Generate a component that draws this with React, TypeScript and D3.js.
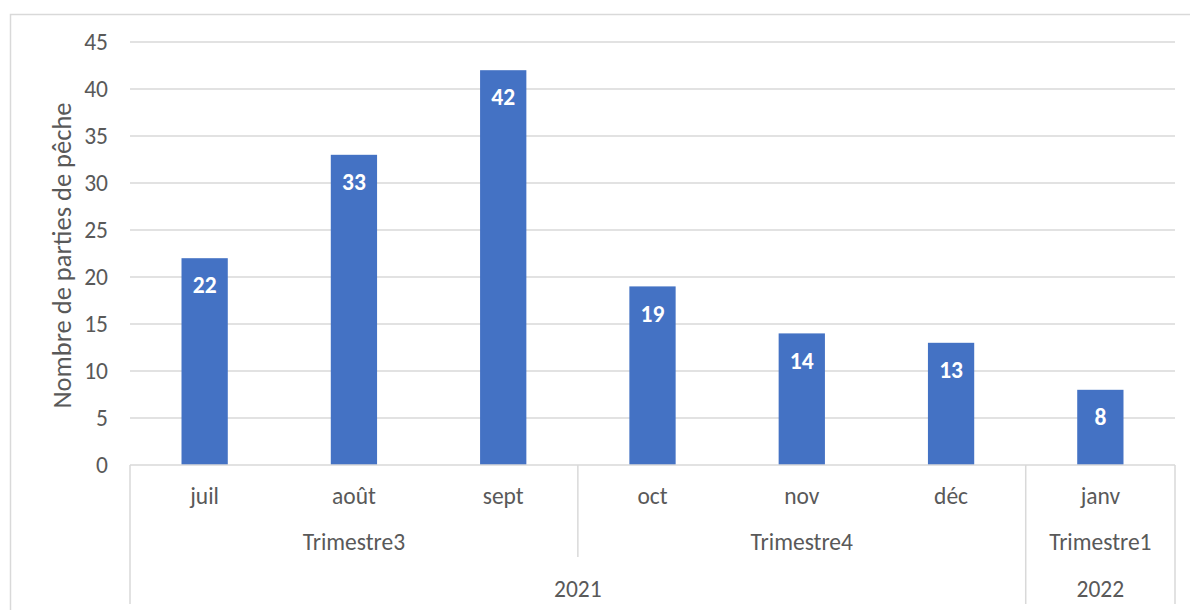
import React from "react";
import * as d3 from "d3";

const months = ["juil", "août", "sept", "oct", "nov", "déc", "janv"];
const values = [22, 33, 42, 19, 14, 13, 8];
const quarters = [
  { label: "Trimestre3", start: 0, end: 3 },
  { label: "Trimestre4", start: 3, end: 6 },
  { label: "Trimestre1", start: 6, end: 7 },
];
const years = [
  { label: "2021", start: 0, end: 6 },
  { label: "2022", start: 6, end: 7 },
];
const yTicks = [0, 5, 10, 15, 20, 25, 30, 35, 40, 45];
const yTitle = "Nombre de parties de pêche";

const W = 1190;
const H = 610;
const left = 130;
const right = 1175;
const top = 42;
const bottom = 465;
const font = "Carlito, Calibri, 'Open Sans', sans-serif";
const fs = 23.5;

export default function App() {
  const x = d3.scaleBand<string>().domain(months).range([left, right]).paddingInner(0.69).paddingOuter(0.345);
  const y = d3.scaleLinear().domain([0, 45]).range([bottom, top]);
  const step = (right - left) / months.length;
  const edge = (i: number) => left + i * step;
  const quarterBoundaries = quarters.slice(0, -1).map((q) => q.end).filter((b) => !years.some((yr) => yr.end === b));
  const yearBoundaries = years.map((yr) => yr.end).filter((b) => b < months.length);
  const textColor = "#595959";
  const lineColor = "#d9d9d9";
  return (
    <div style={{ position: "absolute", left: 0, top: 0 }}>
      <svg width={W} height={H} style={{ display: "block" }}>
        <rect x={0} y={0} width={W} height={H} fill="#fff" />
        <rect x={10.5} y={14.5} width={W} height={H} fill="none" stroke={lineColor} strokeWidth={1.5} />
        {yTicks.map((t) => (
          <g key={t}>
            {t > 0 && <line x1={left} x2={right} y1={y(t)} y2={y(t)} stroke={lineColor} strokeWidth={1.5} />}
            <text x={108} y={y(t)} dy="0.35em" textAnchor="end" fontSize={fs} fill={textColor} fontFamily={font}>
              {t}
            </text>
          </g>
        ))}
        <text
          transform={`translate(62,${(top + bottom) / 2 + 2}) rotate(-90)`}
          textAnchor="middle"
          dy="0.35em"
          fontSize={26.5}
          fill={textColor}
          fontFamily={font}
        >
          {yTitle}
        </text>
        {values.map((v, i) => (
          <g key={months[i]}>
            <rect x={x(months[i])} y={y(v)} width={x.bandwidth()} height={bottom - y(v)} fill="#4472c4" />
            <text
              x={(x(months[i]) as number) + x.bandwidth() / 2}
              y={y(v) + 27}
              dy="0.35em"
              textAnchor="middle"
              fontSize={fs}
              fontWeight="bold"
              fill="#fff"
              fontFamily={font}
            >
              {v}
            </text>
          </g>
        ))}
        <line x1={left} x2={right} y1={bottom} y2={bottom} stroke={lineColor} strokeWidth={1.5} />
        <line x1={left} x2={left} y1={bottom} y2={604} stroke={lineColor} strokeWidth={1.5} />
        <line x1={right} x2={right} y1={bottom} y2={604} stroke={lineColor} strokeWidth={1.5} />
        {quarterBoundaries.map((b) => (
          <line key={"q" + b} x1={edge(b)} x2={edge(b)} y1={bottom} y2={557} stroke={lineColor} strokeWidth={1.5} />
        ))}
        {yearBoundaries.map((b) => (
          <line key={"y" + b} x1={edge(b)} x2={edge(b)} y1={bottom} y2={604} stroke={lineColor} strokeWidth={1.5} />
        ))}
        {months.map((m) => (
          <text
            key={m}
            x={(x(m) as number) + x.bandwidth() / 2}
            y={496}
            dy="0.35em"
            textAnchor="middle"
            fontSize={fs}
            fill={textColor}
            fontFamily={font}
          >
            {m}
          </text>
        ))}
        {quarters.map((q) => (
          <text
            key={q.label}
            x={(edge(q.start) + edge(q.end)) / 2}
            y={542}
            dy="0.35em"
            textAnchor="middle"
            fontSize={fs}
            fill={textColor}
            fontFamily={font}
          >
            {q.label}
          </text>
        ))}
        {years.map((yr) => (
          <text
            key={yr.label}
            x={(edge(yr.start) + edge(yr.end)) / 2}
            y={589}
            dy="0.35em"
            textAnchor="middle"
            fontSize={fs}
            fill={textColor}
            fontFamily={font}
          >
            {yr.label}
          </text>
        ))}
      </svg>
    </div>
  );
}
